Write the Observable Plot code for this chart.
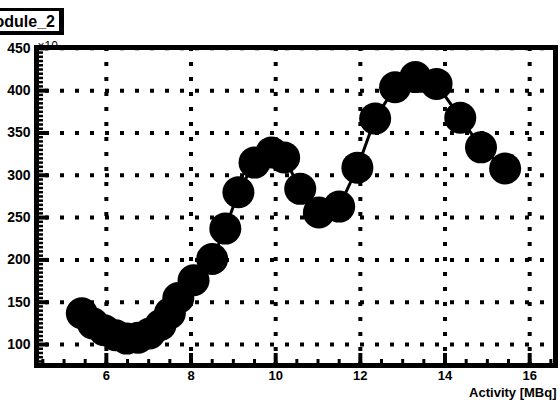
<!DOCTYPE html>
<html><head><meta charset="utf-8">
<script src="https://cdn.jsdelivr.net/npm/d3@7"></script>
<script src="https://cdn.jsdelivr.net/npm/@observablehq/plot@0.6"></script>
<style>html,body{margin:0;padding:0;background:#fff;} svg{display:block}</style>
</head><body><div id="chart"></div>
<script>
// Activity [MBq]
const activity = [5.42, 5.68, 5.95, 6.22, 6.48, 6.75, 7.02, 7.28, 7.5, 7.7, 8.06, 8.5, 8.81, 9.12, 9.5, 9.9, 10.2, 10.58, 11.02, 11.5, 11.93, 12.35, 12.82, 13.3, 13.8, 14.36, 14.85, 15.42];
// counts (x10^3)
const counts = [137, 125, 117, 111, 107, 108, 113, 123, 137, 155, 176, 201, 237, 280, 315, 327, 321, 284, 256, 263, 309, 367, 404, 416, 408, 368, 333, 308];
const xTicks = [6, 8, 10, 12, 14, 16];
const yTicks = [100, 150, 200, 250, 300, 350, 400, 450];
const xMinor = d3.range(4.5, 16.51, 0.5);
const yMinor = d3.range(80, 451, 5);
const title = "Module_2";
const xLabel = "Activity [MBq]";
const yExp = "×10";

const data = activity.map((x, i) => ({x, y: counts[i]}));
const font = "'Liberation Sans', Arial, Helvetica, sans-serif";

const chart = Plot.plot({
  width: 560, height: 404,
  marginLeft: 36, marginRight: 5, marginTop: 47, marginBottom: 39,
  style: {background: "white", fontFamily: font, overflow: "visible"},
  x: {domain: [4.35, 16.61], label: null},
  y: {domain: [75.2, 451], label: null},
  marks: [
    Plot.ruleY(yTicks, {y: d => d, stroke: "black", strokeWidth: 4, strokeDasharray: "4,11", strokeDashoffset: 6}),
    Plot.ruleX(xTicks, {x: d => d, stroke: "black", strokeWidth: 4, strokeDasharray: "4,11"}),
    Plot.axisY(yMinor, {tickSize: -7, text: null, strokeWidth: 2.5, label: null}),
    Plot.axisY(yTicks, {tickSize: -12, text: null, strokeWidth: 4, label: null}),
    Plot.axisX(xMinor, {tickSize: -6, text: null, strokeWidth: 3, label: null}),
    Plot.axisX(xTicks, {tickSize: -12, text: null, strokeWidth: 4, label: null}),
    Plot.axisY(yTicks, {tickSize: 0, tickPadding: 6, fontSize: 14, fontWeight: "bold", fill: "black", label: null}),
    Plot.axisX(xTicks, {tickSize: 0, tickPadding: 5, fontSize: 13, fontWeight: "bold", fill: "black", label: null}),
    Plot.line(data, {x: "x", y: "y", stroke: "black", strokeWidth: 3}),
    Plot.dot(data, {x: "x", y: "y", r: 16, fill: "black", stroke: "none"}),
    Plot.frame({stroke: "black", strokeWidth: 5}),
    Plot.text([xLabel], {frameAnchor: "bottom-right", text: d => d, dy: 31, dx: 1, fontSize: 13, fontWeight: "bold", fill: "black", textAnchor: "end"}),
    Plot.text([yExp], {frameAnchor: "top-left", text: d => d, dy: -6, dx: 1, fontSize: 12, fill: "black", textAnchor: "start"})
  ]
});
document.getElementById("chart").appendChild(chart);

// title box (ROOT-style pave with shadow), partially off the left edge
const svg = d3.select(chart);
const g = svg.append("g");
g.append("rect").attr("x", -10).attr("y", 8).attr("width", 74).attr("height", 27).attr("fill", "black");
g.append("rect").attr("x", -10).attr("y", 11).attr("width", 69).attr("height", 20).attr("fill", "white");
g.append("text").attr("x", 55).attr("y", 27).attr("text-anchor", "end")
  .attr("font-family", font).attr("font-weight", "bold").attr("font-size", 16).attr("fill", "black").text(title);
</script></body></html>
